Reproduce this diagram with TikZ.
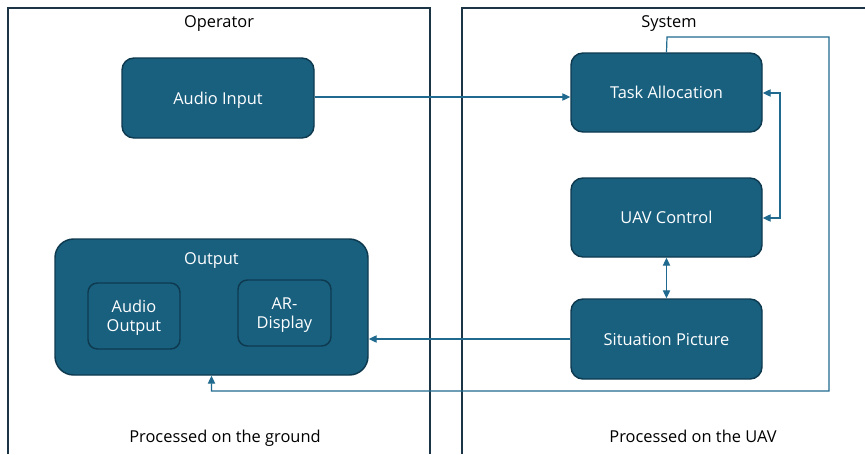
\documentclass[tikz,border=0pt]{standalone}
\usepackage{fontspec}
\setmainfont{Open Sans}
\usetikzlibrary{arrows.meta}
\definecolor{boxfill}{HTML}{19607F}
\definecolor{boxline}{HTML}{0E3A50}
\definecolor{conn}{HTML}{1F6A8E}
\definecolor{frame}{HTML}{1B3446}
\begin{document}
\begin{tikzpicture}[x=0.75pt,y=-0.75pt,
  blk/.style={draw=boxline,line width=1.1pt,fill=boxfill,rounded corners=9pt,text=white,font=\fontsize{12.3}{14}\selectfont,align=center,inner sep=0pt,text depth=0pt},
  inblk/.style={blk,rounded corners=7pt},
  conn/.style={draw=conn,line width=0.9pt},
  tip/.style={-{Triangle[length=6pt,width=5.5pt]}},
  frm/.style={draw=frame,line width=0.8pt},
  lbl/.style={font=\fontsize{12.3}{14}\selectfont,text=black,inner sep=0pt,text depth=0pt,text height=9pt}]
\useasboundingbox (0,0) rectangle (865,454);
\fill[white] (0,0) rectangle (865,454);
% frames
\draw[frm] (8,454) -- (8,8) -- (430,8) -- (430,454);
\draw[frm] (462,454) -- (462,8) -- (866,8);
\node[lbl] (op) at (219,21) {Operator};
\node[lbl] (sys) at (669,21) {System};
\node[lbl] (g) at (225,436) {Processed on the ground};
\node[lbl] (u) at (693,436) {Processed on the UAV};
% boxes
\node[blk,minimum width=192*0.75pt,minimum height=80*0.75pt] (ai) at (218,98) {Audio Input};
\node[blk,minimum width=191*0.75pt,minimum height=79*0.75pt] (ta) at (666.5,92.5) {Task Allocation};
\node[blk,minimum width=191*0.75pt,minimum height=79*0.75pt] (uc) at (666.5,217.5) {UAV Control};
\node[blk,minimum width=191*0.75pt,minimum height=80*0.75pt] (sp) at (666.5,339) {Situation Picture};
\node[blk,minimum width=313*0.75pt,minimum height=136*0.75pt,rounded corners=14pt] (out) at (211.5,307) {};
\node[lbl,text=white] (outl) at (211.5,258) {Output};
\node[inblk,minimum width=92*0.75pt,minimum height=66*0.75pt] (ao) at (134,316) {Audio\\Output};
\node[inblk,minimum width=93*0.75pt,minimum height=66*0.75pt] (ar) at (284.5,313) {AR-\\Display};
% connectors
\draw[conn,tip] (ai.east |- 0,97) -- (ta.west |- 0,97);
\coordinate (tr) at (780,93);
\draw[conn,{Triangle[length=6pt,width=5.5pt]}-{Triangle[length=6pt,width=5.5pt]}] (ta.east |- tr) -| (780,218) -- (uc.east |- 0,218);
\draw[conn,{Triangle[length=6pt,width=5.5pt]}-{Triangle[length=6pt,width=5.5pt]}] (uc.south) -- (sp.north);
\draw[conn,tip] (sp.west) -- (out.east |- sp.west);
\coordinate (fb1) at (667,37);
\coordinate (fb2) at (829,391);
\draw[conn,tip] (ta.north) -- (fb1) -| (fb2) -| (out.south);
\end{tikzpicture}
\end{document}
